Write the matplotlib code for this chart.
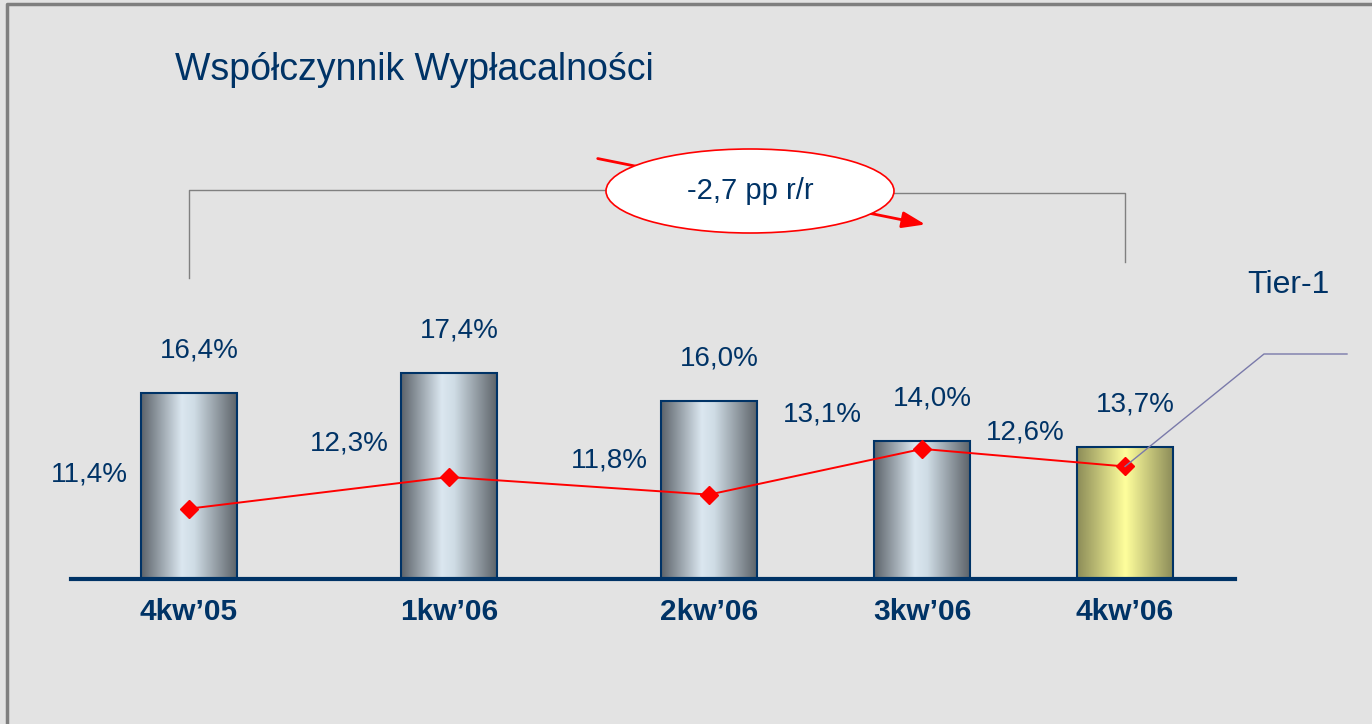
import matplotlib
matplotlib.use('Agg')
import matplotlib.pyplot as plt
import matplotlib.transforms as mtransforms
from matplotlib.colors import LinearSegmentedColormap
from matplotlib.patches import Ellipse, Rectangle, FancyArrowPatch
import numpy as np

# data
quarters = ['4kw\u201905', '1kw\u201906', '2kw\u201906', '3kw\u201906', '4kw\u201906']
solvency = [16.4, 17.4, 16.0, 14.0, 13.7]
tier1 = [11.4, 12.3, 11.8, 13.1, 12.6]
yoy_note = '-2,7 pp r/r'

# layout (slide places the columns unevenly)
xpos = [0, 1, 2, 2.82, 3.6]
bar_w = 0.37

navy = '#003366'
bg = '#e3e3e3'
plt.rcParams['font.family'] = ['Liberation Sans', 'DejaVu Sans']

W, H = 1372, 724
fig = plt.figure(figsize=(W / 100, H / 100), dpi=100, facecolor=bg)


def px_axes(left, right, bottom, top):
    return [left / W, 1 - bottom / H, (right - left) / W, (bottom - top) / H]


ax = fig.add_axes(px_axes(71, 1235, 579, 150))
ax.set_facecolor('none')
ax.axis('off')

grey_cm = LinearSegmentedColormap.from_list(
    'metal', [(0, '#5c636a'), (0.42, '#dbe7f0'), (0.55, '#cfdce5'), (1, '#5b6167')])
yellow_cm = LinearSegmentedColormap.from_list(
    'gold', [(0, '#8c8c58'), (0.5, '#ffff9c'), (1, '#8a8a58')])
grad = np.linspace(0, 1, 256).reshape(1, -1)

y0 = 7.1
for i, (x, v) in enumerate(zip(xpos, solvency)):
    cmap = yellow_cm if i == len(solvency) - 1 else grey_cm
    ax.imshow(grad, cmap=cmap, aspect='auto', extent=(x - bar_w / 2, x + bar_w / 2, y0, v),
              zorder=2, interpolation='bicubic')
    ax.add_patch(Rectangle((x - bar_w / 2, y0), bar_w, v - y0, fill=False,
                           edgecolor=navy, lw=1.5, zorder=3))
    ax.annotate(f'{v:.1f}%'.replace('.', ','), (x, v), xytext=(10, 42),
                textcoords='offset pixels', ha='center', va='center',
                fontsize=20, color=navy)
    ax.annotate(quarters[i], (x, y0), xytext=(0, -33), textcoords='offset pixels',
                ha='center', va='center', fontsize=21.5, fontweight='bold', color=navy)
ax.set_xlim(-0.454, 4.023)
ax.set_ylim(y0, 28.5)
ax.axhline(y0, color=navy, lw=3, zorder=4, clip_on=False)

# tier-1 line on its own scale
ax2 = fig.add_axes(ax.get_position())
ax2.set_facecolor('none')
ax2.axis('off')
ax2.set_xlim(ax.get_xlim())
ax2.set_ylim(9.4, 21.6)
ax2.plot(xpos, tier1, color='red', lw=1.4, marker='D', markersize=9,
         markerfacecolor='red', markeredgecolor='red', zorder=5)
for x, v in zip(xpos, tier1):
    ax2.annotate(f'{v:.1f}%'.replace('.', ','), (x, v), xytext=(-100, 34),
                 textcoords='offset pixels', ha='center', va='center',
                 fontsize=20, color=navy)

# decorations in pixel space
deco = fig.add_axes([0, 0, 1, 1])
deco.set_xlim(0, W)
deco.set_ylim(H, 0)
deco.axis('off')
deco.set_facecolor('none')
deco.plot([7, 7, W], [H, 4, 4], color='#7f7f7f', lw=2.5)

deco.text(175, 70, 'Wsp\u00f3\u0142czynnik Wyp\u0142acalno\u015bci', fontsize=27,
          color=navy, ha='left', va='center')

# bracket between first and last quarter
tb = mtransforms.blended_transform_factory(ax.transData, deco.transData)
deco.plot([xpos[0], xpos[0], 2.16], [278, 190, 190], color='#808080', lw=1, transform=tb)
deco.plot([2.16, xpos[-1], xpos[-1]], [193, 193, 262], color='#808080', lw=1, transform=tb)

deco.add_patch(FancyArrowPatch((595, 158), (928, 225), arrowstyle='-|>,head_length=14,head_width=5',
                               color='red', lw=2, mutation_scale=1, zorder=3))
deco.add_patch(Ellipse((750, 191), 288, 84, facecolor='white', edgecolor='red', lw=1.2, zorder=4))
deco.text(750, 191, yoy_note, fontsize=21, color=navy, ha='center', va='center', zorder=5)

# Tier-1 callout
marker_px = ax2.transData.transform((xpos[-1], tier1[-1]))
mx = marker_px[0]
my = H - marker_px[1]
deco.plot([mx, 1264, 1347], [my, 354, 354], color='#7a7aaa', lw=1, zorder=6)
deco.text(1288, 285, 'Tier-1', fontsize=23, color=navy, ha='center', va='center')

fig.savefig('out.png', dpi=100, facecolor=bg)
